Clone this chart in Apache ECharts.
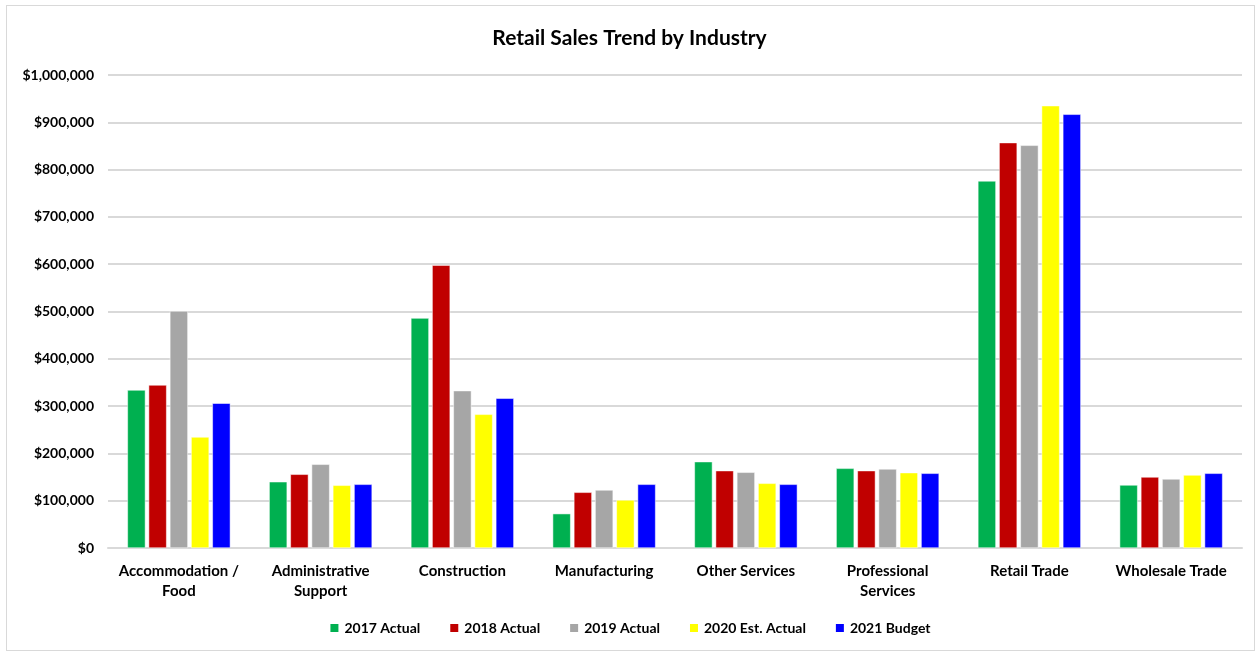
<!DOCTYPE html>
<html>
<head>
<meta charset="utf-8">
<script src="https://cdn.jsdelivr.net/npm/echarts@6/dist/echarts.min.js"></script>
<style>
  html, body { margin: 0; padding: 0; background: #fff; }
  #frame { position: absolute; left: 6px; top: 5px; width: 1247px; height: 644px; border: 1px solid #d9d9d9; }
  #chart { position: absolute; left: 0; top: 0; width: 1259px; height: 654px; }
</style>
</head>
<body>
<div id="frame"></div>
<div id="chart"></div>
<script>
var industries = ['Accommodation /\nFood', 'Administrative\nSupport', 'Construction', 'Manufacturing',
  'Other Services', 'Professional\nServices', 'Retail Trade', 'Wholesale Trade'];

var actual2017 = [334000, 140000, 486000, 72600, 182500, 168400, 776000, 133200];
var actual2018 = [344600, 155800, 598000, 117700, 163500, 163500, 857000, 150100];
var actual2019 = [501000, 176900, 332600, 122600, 160000, 167000, 851300, 145900];
var est2020 = [234700, 132500, 282600, 101500, 136700, 159300, 935100, 154300];
var budget2021 = [306000, 134600, 316500, 134600, 134600, 157900, 916900, 157900];

var seriesNames = ['2017 Actual', '2018 Actual', '2019 Actual', '2020 Est. Actual', '2021 Budget'];
var seriesColors = ['#00b050', '#c00000', '#a6a6a6', '#ffff00', '#0000ff'];
var seriesData = [actual2017, actual2018, actual2019, est2020, budget2021];

var font = 'Lato, "Open Sans", sans-serif';

var chart = echarts.init(document.getElementById('chart'));

var series = seriesNames.map(function (name, i) {
  return {
    name: name,
    type: 'bar',
    data: seriesData[i],
    barWidth: 18,
    barGap: '18%',
    itemStyle: { color: seriesColors[i], borderColor: '#ffffff', borderWidth: 0.5 }
  };
});

chart.setOption({
  animation: false,
  title: {
    text: 'Retail Sales Trend by Industry',
    left: 'center',
    top: 23,
    textStyle: { fontFamily: font, fontSize: 21, fontWeight: 'bold', color: '#000' }
  },
  legend: {
    data: seriesNames,
    bottom: 14,
    left: 'center',
    itemWidth: 10,
    itemHeight: 10,
    itemGap: 28,
    icon: 'rect',
    textStyle: { fontFamily: font, fontSize: 14, fontWeight: 'bold', color: '#000' }
  },
  grid: { left: 108, right: 17, top: 75, bottom: 106 },
  xAxis: {
    type: 'category',
    data: industries,
    axisTick: { show: false },
    axisLine: { lineStyle: { color: '#d9d9d9', width: 2 } },
    axisLabel: {
      interval: 0,
      margin: 13,
      lineHeight: 20,
      fontFamily: font,
      fontSize: 15,
      fontWeight: 'bold',
      color: '#000'
    }
  },
  yAxis: {
    type: 'value',
    min: 0,
    max: 1000000,
    interval: 100000,
    axisLine: { show: false },
    axisTick: { show: false },
    splitLine: { lineStyle: { color: '#d9d9d9', width: 2 } },
    axisLabel: {
      margin: 14,
      fontFamily: font,
      fontSize: 14,
      fontWeight: 'bold',
      color: '#000',
      formatter: function (v) { return '$' + v.toLocaleString('en-US'); }
    }
  },
  series: series
});
</script>
</body>
</html>
